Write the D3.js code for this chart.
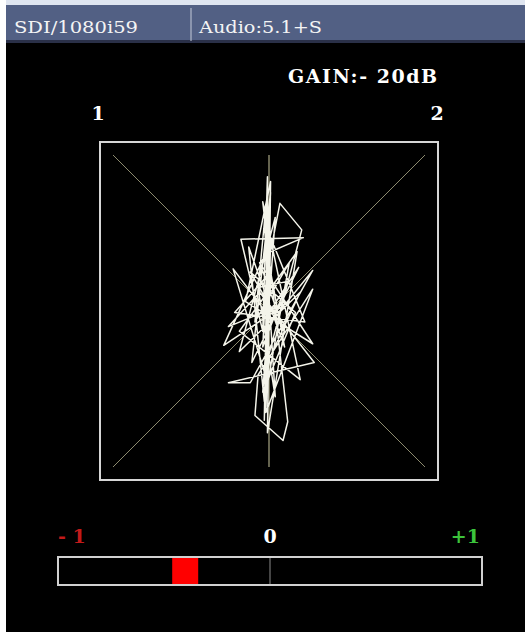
<!DOCTYPE html>
<html>
<head>
<meta charset="utf-8">
<script src="https://cdn.jsdelivr.net/npm/d3@7"></script>
<style>
  body { margin: 0; background: #fff; }
  text { font-family: "DejaVu Serif", "Liberation Serif", serif; }
</style>
</head>
<body>
<div id="scope"></div>
<script>
// Header labels
var headerLabels = ["SDI/1080i59", "Audio:5.1+S"];
var gainLabel = "GAIN:- 20dB";
var channelLabels = ["1", "2"];
var meterTicks = [-1, 0, 1];
var meterTickLabels = ["- 1", "0", "+1"];

// Lissajous trace (normalized, -1..1 on each axis)
var traceX = [-0.01, -0.01, -0.04, -0.18, 0.22, 0.01, 0.07, 0.21, -0.03, -0.23,
    0.02, 0.28, -0.12, -0.26, 0.29, -0.06, -0.26, 0.13, -0.29, 0.01,
    -0.02, 0.28, -0.07, -0.09, 0.09, 0.12, -0.04, 0.20, -0.19, 0.18,
    -0.01, 0.01, -0.15, 0.28, -0.06, 0.10, -0.12, 0.17, -0.04, 0.04,
    -0.19, 0.20, -0.01, -0.02, -0.09, 0.13, -0.03, -0.13, 0.10, 0.01,
    -0.22, 0.23, -0.03, 0.04, -0.07, 0.12, -0.04, 0.01, -0.11, 0.19,
    -0.02, -0.01, -0.02, 0.00, -0.02, -0.01, -0.03, 0.00, -0.02];
var traceY = [0.06, 0.86, -0.13, 0.46, 0.47, 0.38, 0.69, 0.52, -0.39, 0.27,
    -0.06, 0.26, -0.46, -0.46, -0.33, 0.12, -0.10, 0.06, -0.22, 0.44,
    -0.65, 0.14, -0.41, -0.67, -0.83, -0.71, 0.70, -0.44, -0.13, 0.38,
    -0.78, 0.83, 0.06, -0.21, 0.31, -0.13, 0.25, -0.01, -0.52, 0.60,
    -0.26, 0.12, -0.33, 0.67, -0.07, 0.31, -0.58, 0.41, -0.23, 0.25,
    -0.01, -0.07, 0.57, -0.55, 0.15, 0.19, -0.23, 0.76, -0.33, 0.28,
    -0.04, 0.72, -0.60, 0.65, -0.50, 0.55, -0.70, 0.40, -0.10];

// Phase correlation meter reading
var correlation = [-0.40];

var W = 525, H = 632;
var svg = d3.select("#scope").append("svg")
    .attr("width", W)
    .attr("height", H);

// background panels
svg.append("rect").attr("x", 6).attr("y", 0).attr("width", W - 6).attr("height", H).attr("fill", "#000");
svg.append("rect").attr("x", 6).attr("y", 0).attr("width", W - 6).attr("height", 5).attr("fill", "#dfe5f0");
svg.append("rect").attr("x", 6).attr("y", 5).attr("width", W - 6).attr("height", 37).attr("fill", "#526084");
svg.append("rect").attr("x", 6).attr("y", 40).attr("width", W - 6).attr("height", 3).attr("fill", "#2a3048");

// header text
svg.append("text").attr("x", 14).attr("y", 33)
    .attr("fill", "#f4f4f4").style("font-size", "17px")
    .attr("textLength", 124).attr("lengthAdjust", "spacingAndGlyphs")
    .text(headerLabels[0]);
svg.append("line").attr("x1", 191).attr("x2", 191).attr("y1", 8).attr("y2", 41)
    .attr("stroke", "#c4cad8").attr("stroke-width", 1);
svg.append("text").attr("x", 199).attr("y", 33)
    .attr("fill", "#f4f4f4").style("font-size", "17px")
    .attr("textLength", 123).attr("lengthAdjust", "spacingAndGlyphs")
    .text(headerLabels[1]);

// scope scales
var x = d3.scaleLinear().domain([-1, 1]).range([113, 425]);
var y = d3.scaleLinear().domain([-1, 1]).range([467, 155]);
var pad = 13;

svg.append("text").attr("x", 437).attr("y", 83)
    .attr("text-anchor", "end").attr("fill", "#fff")
    .style("font-size", "19px").style("font-weight", "bold")
    .attr("textLength", 149).attr("lengthAdjust", "spacing")
    .text(gainLabel);

svg.selectAll(".chan").data(channelLabels).enter().append("text")
    .attr("class", "chan")
    .attr("x", function(d, i) { return i === 0 ? x(-1) - pad - 2 : x(1) + pad - 1; })
    .attr("y", 120)
    .attr("text-anchor", "middle").attr("fill", "#fff")
    .style("font-size", "19px").style("font-weight", "bold")
    .text(function(d) { return d; });

// frame
svg.append("rect")
    .attr("x", x(-1) - pad).attr("y", y(1) - pad)
    .attr("width", x(1) - x(-1) + 2 * pad).attr("height", y(-1) - y(1) + 2 * pad)
    .attr("fill", "none").attr("stroke", "#d6d6d6").attr("stroke-width", 2);

// graticule: diagonals and vertical
var grid = [[[-1, 1], [1, -1]], [[-1, -1], [1, 1]]];
svg.selectAll(".diag").data(grid).enter().append("line")
    .attr("class", "diag")
    .attr("x1", function(d) { return x(d[0][0]); })
    .attr("y1", function(d) { return y(d[0][1]); })
    .attr("x2", function(d) { return x(d[1][0]); })
    .attr("y2", function(d) { return y(d[1][1]); })
    .attr("stroke", "#8c8a6e").attr("stroke-width", 1);
svg.append("line")
    .attr("x1", x(0)).attr("x2", x(0)).attr("y1", y(1)).attr("y2", y(-1))
    .attr("stroke", "#a8a684").attr("stroke-width", 1.2);

// the trace
var pts = traceX.map(function(v, i) { return [v, traceY[i]]; });
var line = d3.line()
    .x(function(d) { return x(d[0]); })
    .y(function(d) { return y(d[1]); });
svg.append("path")
    .attr("d", line(pts))
    .attr("fill", "none")
    .attr("stroke", "#f4f4ea")
    .attr("stroke-width", 1.5)
    .attr("stroke-linejoin", "round");

// correlation meter
var m = d3.scaleLinear().domain([-1, 1]).range([58, 482]);
var tickColors = ["#c21a1a", "#ffffff", "#3cc43c"];
svg.selectAll(".mtick").data(meterTicks).enter().append("text")
    .attr("class", "mtick")
    .attr("x", function(d, i) { return i === 2 ? m(d) - 2 : m(d); })
    .attr("y", 543)
    .attr("text-anchor", function(d, i) { return i === 0 ? "start" : (i === 2 ? "end" : "middle"); })
    .attr("fill", function(d, i) { return tickColors[i]; })
    .style("font-size", "19px").style("font-weight", "bold")
    .text(function(d, i) { return meterTickLabels[i]; });

svg.append("rect")
    .attr("x", m(-1)).attr("y", 557)
    .attr("width", m(1) - m(-1)).attr("height", 28)
    .attr("fill", "#000").attr("stroke", "#d0d0d0").attr("stroke-width", 2);
svg.append("line")
    .attr("x1", m(0)).attr("x2", m(0)).attr("y1", 558).attr("y2", 584)
    .attr("stroke", "#8a8a8a").attr("stroke-width", 1);

var markerW = 26;
svg.selectAll(".marker").data(correlation).enter().append("rect")
    .attr("class", "marker")
    .attr("x", function(d) { return m(d) - markerW / 2; })
    .attr("y", 558)
    .attr("width", markerW).attr("height", 26)
    .attr("fill", "#ff0000");
</script>
</body>
</html>
